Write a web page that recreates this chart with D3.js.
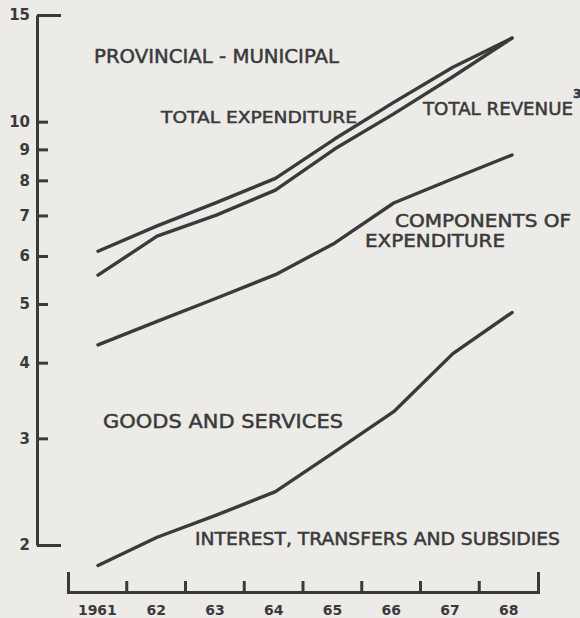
<!DOCTYPE html>
<html>
<head>
<meta charset="utf-8">
<script src="https://cdn.jsdelivr.net/npm/d3@7"></script>
<style>
  body { margin: 0; background: #ecebe8; }
  svg { display: block; }
  text { font-family: "DejaVu Sans", sans-serif; fill: #3a3a3a; }
</style>
</head>
<body>
<div id="chart"></div>
<script>
"use strict";

// years along the bottom
var years = [1961, 1962, 1963, 1964, 1965, 1966, 1967, 1968];

// values (billions of dollars)
var totalExpenditure = [6.11, 6.73, 7.35, 8.06, 9.36, 10.76, 12.3, 13.74];
var totalRevenue = [5.58, 6.47, 7.01, 7.71, 9.01, 10.3, 11.86, 13.74];
var goodsAndServices = [4.28, 4.68, 5.11, 5.59, 6.30, 7.34, 8.05, 8.81];
var interestTransfers = [1.85, 2.06, 2.24, 2.45, 2.85, 3.32, 4.14, 4.84];

// y axis tick values
var yTicks = [2, 3, 4, 5, 6, 7, 8, 9, 10, 15];

var ink = "#3a3a3a";
var width = 580, height = 618;

var svg = d3.select("#chart").append("svg")
    .attr("width", width)
    .attr("height", height);

svg.append("rect")
    .attr("width", width)
    .attr("height", height)
    .attr("fill", "#ecebe8");

// scales
var y = d3.scaleLog()
    .domain([2, 15])
    .range([545, 15]);

// bands for the axis, points for the lines
var xBand = d3.scaleBand()
    .domain(years)
    .range([68, 538]);

var x = d3.scalePoint()
    .domain(years)
    .range([98, 512]);

// y axis, ticks pointing into the plot
var yAxis = d3.axisLeft(y)
    .tickValues(yTicks)
    .tickFormat(d3.format("d"))
    .tickSizeInner(-11)
    .tickSizeOuter(0)
    .tickPadding(7);

var gy = svg.append("g")
    .attr("transform", "translate(37,0)")
    .attr("color", ink)
    .call(yAxis);

gy.select(".domain").attr("stroke-width", 3);
gy.selectAll(".tick line").attr("stroke-width", 3);
// the end ticks are longer
gy.selectAll(".tick line")
    .filter(function(d) { return d === 15 || d === 2; })
    .attr("x2", 24);
gy.selectAll(".tick text")
    .attr("font-family", "DejaVu Sans")
    .attr("font-size", 15)
    .attr("font-weight", "bold")
    .attr("fill", ink);

// x axis: labels centred in each year, ticks between them
var xAxis = d3.axisBottom(xBand)
    .tickSizeInner(0)
    .tickSizeOuter(-20)
    .tickPadding(13)
    .tickFormat(function(d) { return d === 1961 ? "1961" : String(d).slice(2); });

var gx = svg.append("g")
    .attr("transform", "translate(0,592)")
    .attr("color", ink)
    .call(xAxis);

gx.select(".domain").attr("stroke-width", 3);
gx.selectAll(".tick line").remove();
gx.selectAll(".tick text")
    .attr("font-family", "DejaVu Sans")
    .attr("font-size", 14)
    .attr("font-weight", "bold")
    .attr("fill", ink);

gx.selectAll(".boundary")
    .data(years.slice(1))
    .join("line")
    .attr("class", "boundary")
    .attr("x1", function(d) { return xBand(d); })
    .attr("x2", function(d) { return xBand(d); })
    .attr("y1", 0)
    .attr("y2", -11)
    .attr("stroke", ink)
    .attr("stroke-width", 3);

// the four lines
var line = d3.line()
    .x(function(d, i) { return x(years[i]); })
    .y(function(d) { return y(d); });

[totalExpenditure, totalRevenue, goodsAndServices, interestTransfers].forEach(function(series) {
    svg.append("path")
        .datum(series)
        .attr("d", line)
        .attr("fill", "none")
        .attr("stroke", ink)
        .attr("stroke-width", 3.4)
        .attr("stroke-linecap", "round")
        .attr("stroke-linejoin", "round");
});

// hand lettered labels, a thin stroke makes them as heavy as the pen
function label(txt, lx, ly, size, len) {
    var t = svg.append("text")
        .attr("x", lx)
        .attr("y", ly)
        .attr("font-size", size)
        .attr("stroke", ink)
        .attr("stroke-width", 0.5)
        .text(txt);
    if (len) t.attr("textLength", len).attr("lengthAdjust", "spacingAndGlyphs");
    return t;
}

label("PROVINCIAL - MUNICIPAL", 94, 63, 19, 245);
label("TOTAL  EXPENDITURE", 161, 123, 16, 196);
label("TOTAL  REVENUE", 423, 115, 17, 150);
label("3", 573, 98, 12).attr("font-weight", "bold");
label("COMPONENTS OF", 395, 227, 17, 176);
label("EXPENDITURE", 365, 247, 17, 140);
label("GOODS  AND  SERVICES", 103, 428, 20, 240);
label("INTEREST,  TRANSFERS  AND  SUBSIDIES", 195, 545, 17, 365);
</script>
</body>
</html>
